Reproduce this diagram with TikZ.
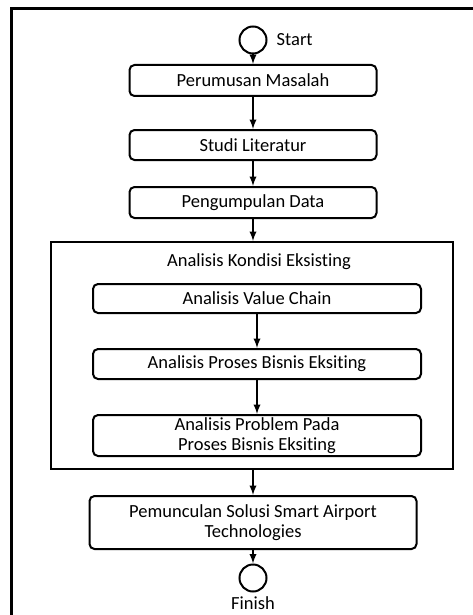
\documentclass[tikz,border=0pt]{standalone}
\usepackage{fontspec}
\setmainfont{Carlito}[Ligatures = NoCommon]
\usepackage{tikz}
\usetikzlibrary{arrows}
\usetikzlibrary{positioning}
\tikzset{>=latex}
\tikzstyle{stepbox} = [rectangle, rounded corners = 5pt, draw = black, line width = 2pt, align = center, inner sep = 0, font = \fontsize{18.5}{20}\selectfont]
\tikzstyle{term} = [circle, draw = black, line width = 2pt, minimum size = 27pt, inner sep = 0]
\tikzstyle{txt} = [draw = none, inner sep = 0, font = \fontsize{18.5}{20}\selectfont]
\tikzstyle{flow} = [->, line width = 2.2pt, draw = black]

\begin{document}
\begin{tikzpicture}[x = 1pt, y = -1pt]
\useasboundingbox (0, 0) rectangle (473, 615);
% frame
\draw [line width = 3pt] (490, 9) -- (11, 9) -- (11, 630);
\node [term] (start) at (253, 40) {};
\node [txt, right = 9pt of start] (startlbl) {Start};
\node [stepbox, minimum width = 247pt, minimum height = 31pt] (rumus) at (253, 80.5) {Perumusan Masalah};
\node [stepbox, minimum width = 247pt, minimum height = 30pt] (studi) at (253, 145) {Studi Literatur};
\node [stepbox, minimum width = 247pt, minimum height = 31pt] (data) at (253, 202.5) {Pengumpulan Data};
%\node [txt] at (0, 0) {grup};
\node [rectangle, draw = black, line width = 2pt, minimum width = 402pt, minimum height = 227pt] (kondisi) at (252, 355.5) {};
\node [txt] (kondisilbl) at (259, 262) {Analisis Kondisi Eksisting};
\node [stepbox, minimum width = 328pt, minimum height = 29pt] (value) at (257, 298.5) {Analisis Value Chain};
\node [stepbox, minimum width = 328pt, minimum height = 30pt] (proses) at (257, 364) {Analisis Proses Bisnis Eksiting};
\node [stepbox, minimum width = 328pt, minimum height = 41pt] (problem) at (257, 435.5) {Analisis Problem Pada\\Proses Bisnis Eksiting};
\node [stepbox, minimum width = 327pt, minimum height = 53pt] (solusi) at (253, 522.5) {Pemunculan Solusi Smart Airport\\Technologies};
\node [term] (finish) at (253, 578) {};
\node [txt, below = 4pt of finish] (finishlbl) {Finish};
\draw [flow] (start) to (rumus);
\draw [flow] (rumus) to (studi);
\draw [flow] (studi) to (data);
\draw [flow] (data) to (data |- kondisi.north);
\draw [flow] (value) to (proses);
\draw [flow] (proses) to (problem);
\draw [flow] (solusi |- kondisi.south) to (solusi);
\draw [flow] (solusi) to (finish);
\end{tikzpicture}
\end{document}
